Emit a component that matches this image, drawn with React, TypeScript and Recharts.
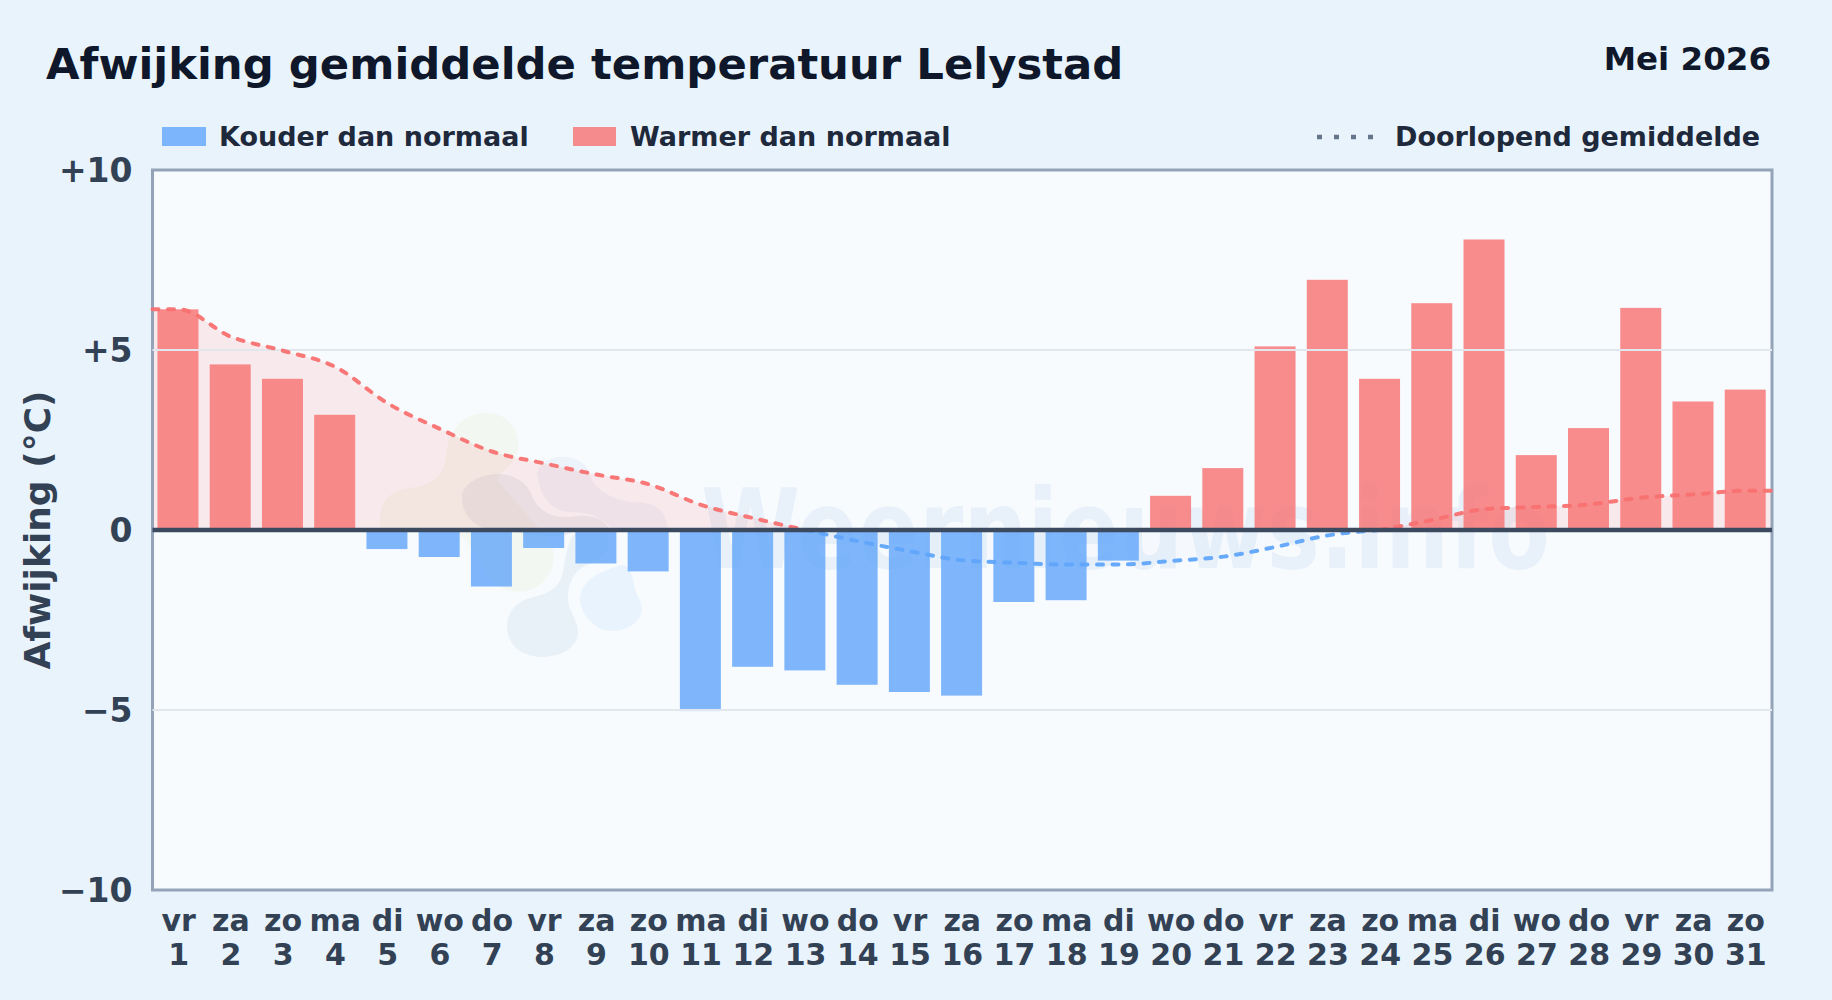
import {
  Area,
  Bar,
  ComposedChart,
  Customized,
  Line,
  ReferenceArea,
  ReferenceLine,
  XAxis,
  YAxis,
} from 'recharts'

const days = [1, 2, 3, 4, 5, 6, 7, 8, 9, 10, 11, 12, 13, 14, 15, 16, 17, 18, 19, 20, 21, 22, 23, 24, 25, 26, 27, 28, 29, 30, 31]
const weekdays = ['vr', 'za', 'zo', 'ma', 'di', 'wo', 'do', 'vr', 'za', 'zo', 'ma', 'di', 'wo', 'do', 'vr', 'za', 'zo', 'ma', 'di', 'wo', 'do', 'vr', 'za', 'zo', 'ma', 'di', 'wo', 'do', 'vr', 'za', 'zo']
const deviation = [6.13, 4.6, 4.2, 3.2, -0.53, -0.75, -1.57, -0.5, -0.93, -1.15, -5.03, -3.8, -3.9, -4.3, -4.5, -4.6, -2.0, -1.95, -0.85, 0.95, 1.72, 5.1, 6.95, 4.2, 6.3, 8.07, 2.08, 2.83, 6.17, 3.57, 3.9]
const runningMean = [6.13, 5.37, 4.98, 4.53, 3.52, 2.81, 2.18, 1.85, 1.54, 1.27, 0.7, 0.33, 0, -0.31, -0.59, -0.84, -0.91, -0.96, -0.96, -0.86, -0.74, -0.47, -0.15, 0, 0.28, 0.58, 0.64, 0.71, 0.9, 0.99, 1.09]
const yTicks = [-10, -5, 0, 5, 10]

const BLUE = '#60a5fa'
const RED = '#f87171'
const FONT = '"DejaVu Sans", sans-serif'

const sideOf = (v: number) => ({
  warm: v >= 0 ? v : null,
  cool: v <= 0 ? v : null,
})

// the running mean runs on to both plot edges, so it gets an extra row at each end
const rows = [
  { day: 0.5, ...sideOf(runningMean[0]) },
  ...days.map((day, i) => ({ day, value: deviation[i], ...sideOf(runningMean[i]) })),
  { day: 31.5, ...sideOf(runningMean[30]) },
]

const yLabel = (v: number) => (v > 0 ? `+${v}` : v < 0 ? `\u2212${-v}` : '0')

function DayTick({ x, payload }: any) {
  return (
    <g fontFamily={FONT} fontWeight={700} fontSize={30} fill="#334155" textAnchor="middle">
      <text x={x} y={931}>{weekdays[payload.value - 1]}</text>
      <text x={x} y={965}>{payload.value}</text>
    </g>
  )
}

// the edge rows shrink the band Recharts works out, so the width is set here
function DayBar({ x, y, width, height, payload }: any) {
  if (!payload || payload.value == null) return null
  return (
    <rect
      x={x + width / 2 - 21.2}
      y={Math.min(y, y + height)}
      width={41}
      height={Math.abs(height)}
      fill={payload.value < 0 ? BLUE : RED}
      fillOpacity={0.8}
    />
  )
}

function Watermark() {
  return (
    <g>
      <rect x={152.5} y={170} width={1619.5} height={720} fill="#f8fbfe" />
      <path d="M483 413 C505 411 520 428 518 448 C516 466 500 470 497 480 L540 530 C560 545 558 575 535 588 C515 597 490 590 480 560 C470 545 462 535 455 532 L382 532 C375 510 385 490 410 488 C440 484 445 470 447 450 C450 428 465 414 483 413 Z" fill="#d9e9b0" fillOpacity={0.16} />
      <path d="M462 497 C462 482 485 473 500 474 C520 476 528 485 533 498 C540 512 552 518 570 517 C590 513 604 518 610 530 L575 530 C560 545 520 530 490 530 C470 525 462 512 462 497 Z" fill="#5b6f8f" fillOpacity={0.09} />
      <path d="M507 627 C507 608 520 600 537 596 C552 592 560 586 563 572 C566 555 568 540 575 533 L605 533 C618 548 600 560 585 566 C572 572 568 585 568 600 C568 610 578 620 578 632 C578 648 560 657 542 657 C522 657 507 645 507 627 Z" fill="#5b8fc0" fillOpacity={0.09} />
      <path d="M580 597 C582 580 600 572 618 566 C628 562 632 572 634 585 C636 596 642 600 642 610 C640 624 625 631 612 631 C595 631 580 615 580 597 Z" fill="#8cc8f5" fillOpacity={0.14} />
      <path d="M537 473 C542 460 555 456 565 457 C578 458 587 463 590 475 C595 490 610 498 630 502 C650 502 666 505 668 530 L612 530 C604 518 590 512 570 512 C552 512 540 498 537 473 Z" fill="#6f9fd0" fillOpacity={0.08} />
      <text x={701} y={568} textLength={849} lengthAdjust="spacingAndGlyphs" fontFamily={FONT} fontWeight={700} fontSize={110} fill="#2f7fc0" fillOpacity={0.08}>
        Weernieuws.info
      </text>
    </g>
  )
}

function Header() {
  return (
    <g fontFamily={FONT} fontWeight={700}>
      <text x={46} y={79} fontSize={43.35} fill="#0f172a">Afwijking gemiddelde temperatuur Lelystad</text>
      <text x={1771} y={70} fontSize={32.5} fill="#0f172a" textAnchor="end">Mei 2026</text>

      <rect x={162} y={127} width={44} height={19} fill={BLUE} fillOpacity={0.8} />
      <text x={219} y={146} fontSize={27} fill="#1e293b">Kouder dan normaal</text>
      <rect x={573} y={127} width={43} height={19} fill={RED} fillOpacity={0.8} />
      <text x={630} y={146} fontSize={27} fill="#1e293b">Warmer dan normaal</text>
      <line x1={1317} x2={1373} y1={137} y2={137} stroke="#64748b" strokeWidth={4.5} strokeDasharray="5 12" />
      <text x={1395} y={146} fontSize={27} fill="#1e293b">Doorlopend gemiddelde</text>

      <text transform="translate(50 530) rotate(-90)" fontSize={36} fill="#334155" textAnchor="middle">Afwijking (°C)</text>
    </g>
  )
}

export default function App() {
  return (
    <div style={{ position: 'absolute', left: 0, top: 0, width: 1832, height: 1000, background: '#e8f3fc' }}>
      <ComposedChart
        width={1832}
        height={1000}
        data={rows}
        margin={{ top: 170, right: 60, bottom: 30, left: 92.5 }}
      >
        <Customized component={Watermark} />
        <ReferenceLine y={5} stroke="#e1e7ed" strokeWidth={2} />
        <ReferenceLine y={-5} stroke="#e1e7ed" strokeWidth={2} />
        <XAxis
          dataKey="day"
          type="number"
          domain={[0.5, 31.5]}
          ticks={days}
          interval={0}
          height={80}
          axisLine={false}
          tickLine={false}
          tick={<DayTick />}
        />
        <YAxis
          type="number"
          domain={[-10, 10]}
          ticks={yTicks}
          width={60}
          axisLine={false}
          tickLine={false}
          tickSize={0}
          tickMargin={20}
          tickFormatter={yLabel}
          tick={{ fontFamily: FONT, fontWeight: 700, fontSize: 33, fill: '#334155' }}
        />
        <Area dataKey="warm" type="monotone" fill={RED} fillOpacity={0.13} stroke="none" isAnimationActive={false} />
        <Area dataKey="cool" type="monotone" fill={BLUE} fillOpacity={0.02} stroke="none" isAnimationActive={false} />
        <Bar dataKey="value" shape={<DayBar />} isAnimationActive={false} />
        <Line dataKey="warm" type="monotone" stroke={RED} strokeOpacity={0.95} strokeWidth={4} strokeDasharray="6 9.5" strokeLinecap="round" dot={false} isAnimationActive={false} />
        <Line dataKey="cool" type="monotone" stroke={BLUE} strokeOpacity={0.95} strokeWidth={4} strokeDasharray="6 9.5" strokeLinecap="round" dot={false} isAnimationActive={false} />
        <ReferenceLine y={0} stroke="#3b4a5f" strokeWidth={4.5} />
        <ReferenceArea x1={0.5} x2={31.5} y1={-10} y2={10} fill="none" stroke="#94a3b8" strokeWidth={3} />
        <Customized component={Header} />
      </ComposedChart>
    </div>
  )
}
